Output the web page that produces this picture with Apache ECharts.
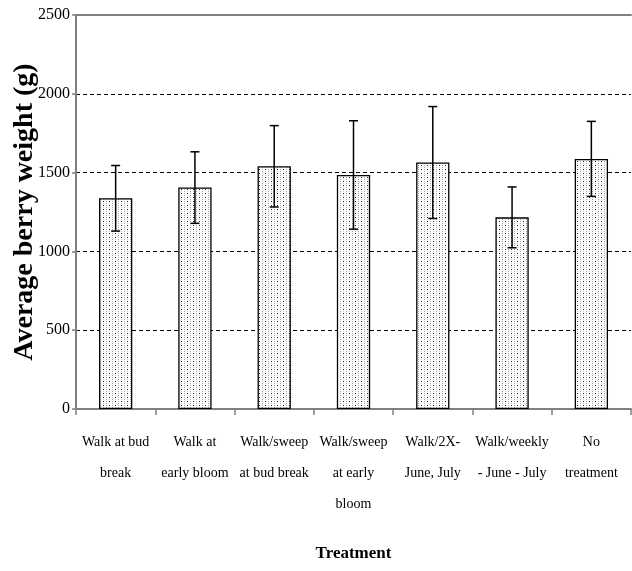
<!DOCTYPE html>
<html>
<head>
<meta charset="utf-8">
<script src="https://cdn.jsdelivr.net/npm/echarts@6/dist/echarts.min.js"></script>
<style>
  html, body { margin: 0; padding: 0; background: #fff; }
  #chart { width: 632px; height: 571px; }
</style>
</head>
<body>
<div id="chart"></div>
<script>
// Treatments along the x axis
const treatments = [
  'Walk at bud\nbreak',
  'Walk at\nearly bloom',
  'Walk/sweep\nat bud break',
  'Walk/sweep\nat early\nbloom',
  'Walk/2X-\nJune, July',
  'Walk/weekly\n- June - July',
  'No\ntreatment'
];

// Mean berry weight (g) per treatment
const meanWeight = [1337, 1405, 1540, 1485, 1564, 1216, 1587];

// Error bar half-widths (g)
const errorSize = [208, 227, 258, 344, 355, 193, 238];

// Y axis range and step
const yMin = 0;
const yMax = 2500;
const yStep = 500;

const serif = '"Times New Roman", "Liberation Serif", "DejaVu Serif", serif';

// Stippled fill for the bars
function makeStipple() {
  const c = document.createElement('canvas');
  c.width = 6;
  c.height = 4;
  const g = c.getContext('2d');
  g.fillStyle = '#ffffff';
  g.fillRect(0, 0, 6, 4);
  g.fillStyle = '#222222';
  g.fillRect(1, 1, 1, 1);
  g.fillStyle = '#a8a8a8';
  g.fillRect(4, 1, 1, 1);
  g.fillRect(4, 3, 1, 1);
  g.fillStyle = '#d0d0d0';
  g.fillRect(1, 3, 1, 1);
  return c;
}

const errorData = meanWeight.map((v, i) => [i, v - errorSize[i], v + errorSize[i]]);

const chart = echarts.init(document.getElementById('chart'), null, { renderer: 'canvas' });

chart.setOption({
  animation: false,
  backgroundColor: '#ffffff',
  grid: { left: 76, right: 1, top: 15, bottom: 162, containLabel: false, outerBoundsMode: 'none' },
  xAxis: [
    {
      type: 'category',
      data: treatments,
      name: 'Treatment',
      nameLocation: 'middle',
      nameGap: 136,
      nameMoveOverlap: false,
      nameTextStyle: { fontFamily: serif, fontWeight: 'bold', fontSize: 17, color: '#000' },
      axisLine: { lineStyle: { color: '#808080', width: 2 } },
      axisTick: { show: true, length: 6, lineStyle: { color: '#808080', width: 1.5 } },
      axisLabel: {
        interval: 0,
        margin: 18,
        fontFamily: serif,
        fontSize: 14,
        lineHeight: 31,
        color: '#000'
      },
      splitLine: { show: false }
    },
    {
      type: 'category',
      position: 'top',
      data: treatments,
      axisLine: { show: true, lineStyle: { color: '#808080', width: 2 } },
      axisTick: { show: false },
      axisLabel: { show: false },
      splitLine: { show: false }
    }
  ],
  yAxis: {
    type: 'value',
    min: yMin,
    max: yMax,
    interval: yStep,
    name: 'Average berry weight (g)',
    nameLocation: 'middle',
    nameGap: 37,
    nameMoveOverlap: false,
    nameTextStyle: { fontFamily: serif, fontWeight: 'bold', fontSize: 28, color: '#000' },
    axisLine: { show: true, lineStyle: { color: '#808080', width: 2 } },
    axisTick: { show: true, length: 4, lineStyle: { color: '#808080', width: 1.5 } },
    axisLabel: {
      fontFamily: serif,
      fontSize: 16,
      color: '#000',
      margin: 6,
      formatter: (v) => String(v)
    },
    splitLine: { show: true, lineStyle: { color: '#000', width: 1, type: [4, 3] } }
  },
  series: [
    {
      type: 'bar',
      data: meanWeight,
      barWidth: '42%',
      itemStyle: {
        color: { image: makeStipple(), repeat: 'repeat' },
        borderColor: '#000',
        borderWidth: 1.3
      },
      z: 2
    },
    {
      type: 'custom',
      data: errorData,
      z: 3,
      renderItem: function (params, api) {
        const x = api.value(0);
        const lo = api.coord([x, api.value(1)]);
        const hi = api.coord([x, api.value(2)]);
        const cap = 4.5;
        const style = { stroke: '#000', lineWidth: 1.5 };
        return {
          type: 'group',
          children: [
            { type: 'line', shape: { x1: lo[0], y1: lo[1], x2: hi[0], y2: hi[1] }, style: style },
            { type: 'line', shape: { x1: hi[0] - cap, y1: hi[1], x2: hi[0] + cap, y2: hi[1] }, style: style },
            { type: 'line', shape: { x1: lo[0] - cap, y1: lo[1], x2: lo[0] + cap, y2: lo[1] }, style: style }
          ]
        };
      }
    }
  ]
});
</script>
</body>
</html>
